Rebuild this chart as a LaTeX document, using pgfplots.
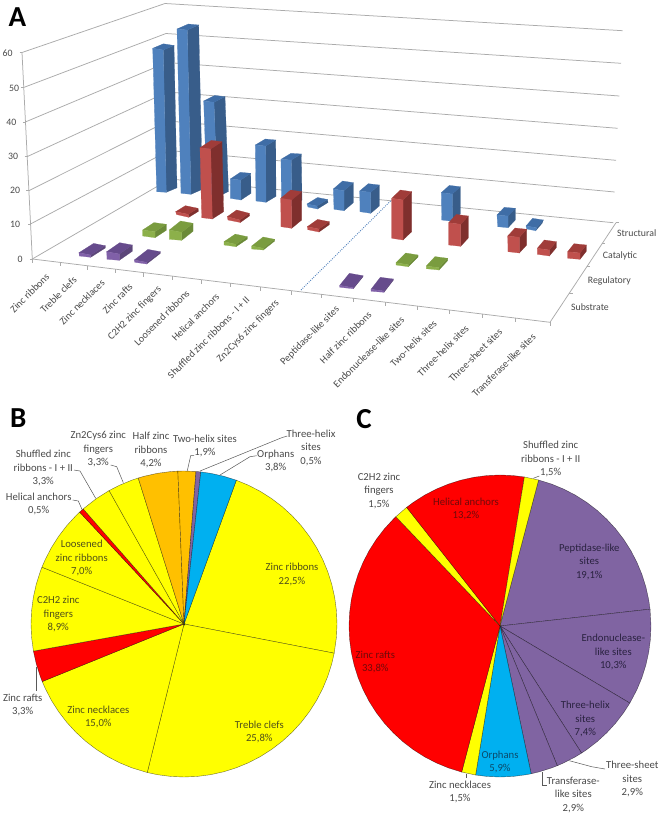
\documentclass[border=0pt]{standalone}
\usepackage{fontspec}
\setmainfont{Carlito}
\usepackage{pgfplots}
\pgfplotsset{compat=1.18}
\usepgfplotslibrary{polar}
\definecolor{blueF}{HTML}{4F81BD}\definecolor{blueS}{HTML}{385D8A}\definecolor{blueT}{HTML}{3F6DA6}
\definecolor{redF}{HTML}{C0504D}\definecolor{redS}{HTML}{7F2F2D}\definecolor{redT}{HTML}{A03C39}
\definecolor{greenF}{HTML}{8CB04A}\definecolor{greenS}{HTML}{6B8A38}\definecolor{greenT}{HTML}{7A9C3F}
\definecolor{purpF}{HTML}{8060A8}\definecolor{purpS}{HTML}{5C4679}\definecolor{purpT}{HTML}{664B8C}
\definecolor{gridc}{HTML}{ABABAB}\definecolor{lab}{HTML}{4A4A4A}
\definecolor{py}{HTML}{FFFF00}\definecolor{pr}{HTML}{FF0000}\definecolor{po}{HTML}{FFC000}
\definecolor{pb}{HTML}{00B0F0}\definecolor{pp}{HTML}{8064A2}
\definecolor{ty}{HTML}{50501A}\definecolor{tr}{HTML}{700A0A}\definecolor{tp}{HTML}{2A2240}\definecolor{tb}{HTML}{0B4A6A}
\newcommand\W[2]{\addplot[fill=#1,draw=black,draw opacity=.55,line width=.4pt,mark=none] coordinates {(0,0) #2} --cycle;}
\newcommand\B[9]{\def\bc{#1}\def\xa{#2}\def\ya{#3}\def\xb{#4}\def\yb{#5}\def\xc{#6}\def\yc{#7}\def\xd{#8}\def\yd{#9}\Bb}
\newcommand\Bb[2]{%
 \pgfmathsetmacro\xe{\xa+#1}\pgfmathsetmacro\ye{\ya+#2}%
 \pgfmathsetmacro\xf{\xb+#1}\pgfmathsetmacro\yf{\yb+#2}%
 \pgfmathsetmacro\xg{\xc+#1}\pgfmathsetmacro\yg{\yc+#2}%
 \edef\tmp{\noexpand\addplot[fill=\bc S,draw=\bc S,line width=.2pt,mark=none] coordinates {(\xb,\yb)(\xc,\yc)(\xg,\yg)(\xf,\yf)} --cycle;
 \noexpand\addplot[fill=\bc T,draw=\bc T,line width=.2pt,mark=none] coordinates {(\xa,\ya)(\xb,\yb)(\xf,\yf)(\xe,\ye)} --cycle;
 \noexpand\addplot[fill=\bc F,draw=\bc F,line width=.2pt,mark=none] coordinates {(\xa,\ya)(\xb,\yb)(\xc,\yc)(\xd,\yd)} --cycle;}\tmp}
\newcommand\G[4]{\addplot[color=gridc,line width=.75pt,mark=none] coordinates {(#1,#2)(#3,#4)};}
\newcommand\Lk[1]{\addplot[color=black!65,line width=.5pt,mark=none] coordinates {#1};}
\newcommand\T[4]{\node[font=\fontsize{10.7}{13.4}\selectfont,text=#3,align=center,inner sep=0pt] at (axis cs:#1,#2) {#4};}
\newcommand\Ta[3]{\node[font=\fontsize{9.8}{12}\selectfont,text=lab,inner sep=0pt] at (axis cs:#1,#2) {#3};}
\newcommand\XL[3]{\node[font=\fontsize{10.2}{12}\selectfont,text=lab,rotate=45,anchor=east,inner sep=0pt] at (axis cs:#1,#2) {#3};}
\begin{document}
\begin{tikzpicture}
\useasboundingbox[fill=white] (0,0) rectangle (661pt,816pt);
% Pie B
\begin{polaraxis}[at={(184pt,192pt)},anchor=center,scale only axis,width=306pt,height=306pt,hide axis,xmin=0,xmax=360,ymin=0,ymax=1,clip=false]
\W{py}{(70,1)(65,1)(60,1)(55,1)(50,1)(45,1)(40,1)(35,1)(30,1)(25,1)(20,1)(15,1)(10,1)(5,1)(0,1)(355,1)(349,1)}
\W{py}{(349,1)(345,1)(340,1)(335,1)(330,1)(325,1)(320,1)(315,1)(310,1)(305,1)(300,1)(295,1)(290,1)(285,1)(280,1)(275,1)(270,1)(265,1)(260,1)(256.1,1)}
\W{py}{(256.1,1)(250,1)(245,1)(240,1)(235,1)(230,1)(225,1)(220,1)(215,1)(210,1)(205,1)(202.1,1)}
\W{pr}{(202.1,1)(200,1)(195,1)(190.2,1)}
\W{py}{(190.2,1)(185,1)(180,1)(175,1)(170,1)(165,1)(160,1)(158.2,1)}
\W{py}{(158.2,1)(155,1)(150,1)(145,1)(140,1)(135,1)(133,1)}
\W{pr}{(133,1)(131.2,1)}
\W{py}{(131.2,1)(125,1)(119.3,1)}
\W{py}{(119.3,1)(115,1)(110,1)(107.4,1)}
\W{po}{(107.4,1)(105,1)(100,1)(95,1)(92.3,1)}
\W{po}{(92.3,1)(90,1)(85.5,1)}
\W{pp}{(85.5,1)(83.7,1)}
\W{pb}{(83.7,1)(80,1)(75,1)(70,1)}
\end{polaraxis}
% Pie C
\begin{polaraxis}[at={(500pt,190pt)},anchor=center,scale only axis,width=302pt,height=302pt,hide axis,xmin=0,xmax=360,ymin=0,ymax=1,clip=false]
\W{pp}{(75.2,1)(70,1)(65,1)(60,1)(55,1)(50,1)(45,1)(40,1)(35,1)(30,1)(25,1)(20,1)(15,1)(10,1)(6.4,1)}
\W{pp}{(6.4,1)(0,1)(355,1)(350,1)(345,1)(340,1)(335,1)(329.3,1)}
\W{pp}{(329.3,1)(325,1)(320,1)(315,1)(310,1)(305,1)(302.7,1)}
\W{pp}{(302.7,1)(300,1)(295,1)(292.3,1)}
\W{pp}{(292.3,1)(290,1)(285,1)(281.9,1)}
\W{pb}{(281.9,1)(280,1)(275,1)(270,1)(265,1)(260.7,1)}
\W{py}{(260.7,1)(255.3,1)}
\W{pr}{(255.3,1)(250,1)(245,1)(240,1)(235,1)(230,1)(225,1)(220,1)(215,1)(210,1)(205,1)(200,1)(195,1)(190,1)(185,1)(180,1)(175,1)(170,1)(165,1)(160,1)(155,1)(150,1)(145,1)(140,1)(135,1)(133.6,1)}
\W{py}{(133.6,1)(128.2,1)}
\W{pr}{(128.2,1)(125,1)(120,1)(115,1)(110,1)(105,1)(100,1)(95,1)(90,1)(85,1)(80.7,1)}
\W{py}{(80.7,1)(75.2,1)}
\end{polaraxis}
% Pixel-scaled axis: chart A, labels
\begin{axis}[at={(0,0)},anchor=south west,scale only axis,width=661pt,height=816pt,xmin=0,xmax=661,ymin=0,ymax=816,y dir=reverse,hide axis,clip=false]
% left wall grid
\G{22}{52.5}{165}{3.5}\G{23.6}{87.5}{166}{33.5}\G{25.3}{122}{167}{62.5}\G{27}{156.7}{167.5}{92}\G{28.8}{190.7}{168}{121}\G{30.5}{224}{169}{150.5}\G{32.3}{259}{170}{179}
% back wall grid
\G{165}{3.5}{622.7}{30.7}\G{166}{33.5}{621}{63.3}\G{167}{62.5}{619.3}{96}\G{167.5}{92}{617.7}{128.3}\G{168}{121}{616}{160.3}\G{169}{150.5}{614.7}{192}\G{170}{179}{613.3}{222.7}
% value axis
\G{22}{52.5}{32.3}{259}
\G{19.5}{52.5}{22}{52.5}\G{21.1}{87.5}{23.6}{87.5}\G{22.8}{122}{25.3}{122}\G{24.5}{156.7}{27}{156.7}\G{26.3}{190.7}{28.8}{190.7}\G{28}{224}{30.5}{224}\G{29.8}{259}{32.3}{259}
% floor edges
\G{32.3}{259}{550}{322.3}\G{550}{322.3}{616}{222.7}
\G{32.3}{259}{32.3}{263}\G{60}{262.4}{60}{266.4}\G{87.3}{265.7}{87.3}{269.7}\G{115.3}{269.2}{115.3}{273.2}\G{143.3}{272.6}{143.3}{276.6}\G{172.3}{276.1}{172.3}{280.1}\G{201}{279.6}{201}{283.6}\G{230}{283.2}{230}{287.2}\G{260}{286.8}{260}{290.8}\G{291.7}{290.7}{291.7}{294.7}\G{321.7}{294.4}{321.7}{298.4}\G{353.3}{298.3}{353.3}{302.3}\G{385}{302.1}{385}{306.1}\G{417.3}{306.1}{417.3}{310.1}\G{449.3}{310}{449.3}{314}\G{482.7}{314.1}{482.7}{318.1}\G{515.7}{318.1}{515.7}{322.1}\G{550}{322.3}{550}{326.3}
\G{569.3}{293.3}{572.5}{293.3}\G{586.7}{266.7}{590}{266.7}\G{601.7}{243.5}{605}{243.5}\G{616}{222.7}{619.3}{222.7}
% dotted separator
\addplot[color=blueF,dash pattern=on .9pt off 1.3pt,line width=.9pt,mark=none] coordinates {(301,290)(391.5,200)};
% structural
\B{blue}{152.7}{48.3}{163.3}{50}{166.3}{192.3}{156.7}{191.7}{10.7}{-4.5}
\B{blue}{177}{29}{187.3}{30}{191}{194.3}{181}{193.3}{11.4}{-5}
\B{blue}{203.7}{101}{214}{102.3}{217.5}{197}{207}{196}{11}{-5.6}
\B{blue}{230.3}{179}{240.7}{180}{241}{200}{230.3}{198.3}{10}{-6.7}
\B{blue}{255.3}{145}{265.7}{146}{266}{202.3}{256}{201}{10}{-6}
\B{blue}{281}{159.3}{291.3}{160}{292}{206}{281.5}{205}{10}{-6}
\B{blue}{307}{204}{317}{206}{317.5}{209}{308}{207}{10.5}{-6.5}
\B{blue}{333.3}{189}{344}{190.7}{344}{210.7}{334}{209.3}{9.3}{-8}
\B{blue}{359.7}{191}{370.7}{192.3}{370.7}{213.3}{360}{211.7}{8.6}{-7.3}
\B{blue}{441.3}{192.7}{452.3}{194}{452.3}{221.3}{441.7}{220}{8}{-7.3}
\B{blue}{497}{215}{508}{216}{508}{227.7}{497.7}{226.7}{7.3}{-7.7}
\B{blue}{526}{226}{536.7}{227.7}{535.7}{230.7}{526.7}{229}{6.6}{-7.7}
% catalytic
\B{red}{175.7}{211.7}{188.3}{214.3}{188.8}{217.3}{176.5}{214.5}{9.7}{-6}
\B{red}{200}{147.7}{210.7}{149}{212.3}{219}{201.7}{217.7}{11.3}{-7.3}
\B{red}{227.3}{216.7}{240}{220}{240.3}{222.5}{228}{220}{9.3}{-6.7}
\B{red}{280.7}{198.3}{291.7}{200}{291.7}{228.3}{281}{226.7}{10}{-8.3}
\B{red}{307.3}{226.7}{319}{229}{319}{232}{307.8}{229.7}{10.3}{-7.3}
\B{red}{391.7}{198.3}{403}{200}{403}{240}{391.7}{238.3}{8.7}{-8.3}
\B{red}{448.7}{222.7}{460.7}{224.3}{460.7}{246.3}{448.7}{245}{7.6}{-8.3}
\B{red}{507.7}{236}{519.3}{237.3}{519.3}{253}{508}{251.7}{7.4}{-8}
\B{red}{537.3}{248.3}{549.3}{250}{549.3}{256}{537.3}{254.3}{7}{-8.3}
\B{red}{567.7}{251.7}{580}{253}{580}{259.3}{567.7}{258.3}{6.3}{-8}
% regulatory
\B{green}{142.7}{230}{155}{231.7}{155}{237.7}{142.7}{236}{11.3}{-7.4}
\B{green}{169.3}{230}{181.7}{232.3}{181.7}{240.3}{169.3}{239.3}{11.3}{-9}
\B{green}{224}{241.7}{236}{244.3}{236}{246.7}{224}{245}{11.3}{-7.6}
\B{green}{251.7}{246}{263.3}{248.3}{263.3}{250}{251.7}{249}{11.4}{-9}
\B{green}{396}{262.7}{408.3}{264.7}{408.3}{266.7}{396}{265}{9.7}{-9.7}
\B{green}{426.3}{266}{439}{267.7}{439}{270}{426.3}{268.7}{8.7}{-9.4}
% substrate
\B{purp}{79}{252.7}{90.7}{255}{90.7}{257.3}{79.3}{256}{14.6}{-9.3}
\B{purp}{106.7}{251.7}{119.3}{254}{119.3}{260.3}{107}{259.3}{13}{-9}
\B{purp}{134.3}{260}{146.7}{262.3}{146.7}{264}{134.7}{262.3}{13.6}{-10.6}
\B{purp}{339.7}{285.3}{353.3}{287.7}{353.3}{288.7}{339.7}{287.3}{9.7}{-12}
\B{purp}{371}{289.3}{384}{291}{384}{292.3}{371}{291.3}{9.3}{-12}
% value labels
\Ta{7.7}{53}{60}\Ta{14}{88}{50}\Ta{11.3}{122.7}{40}\Ta{13}{156.7}{30}\Ta{15}{190.7}{20}\Ta{15}{224}{10}\Ta{20}{259}{0}
% category labels
\XL{47.7}{275}{Zinc ribbons}\XL{75}{278}{Treble clefs}\XL{103}{281}{Zinc necklaces}\XL{131}{285}{Zinc rafts}\XL{160}{288}{C2H2 zinc fingers}\XL{188}{291.7}{Loosened ribbons}\XL{217.7}{295}{Helical anchors}\XL{248}{298}{Shuffled zinc ribbons - I + II}\XL{277.7}{301.7}{Zn2Cys6 zinc fingers}\XL{338}{308}{Peptidase-like sites}\XL{370}{313}{Half zinc ribbons}\XL{402.7}{318}{Endonuclease-like sites}\XL{435}{321.7}{Two-helix sites}\XL{467}{326.7}{Three-helix sites}\XL{500.7}{330}{Three-sheet sites}\XL{534}{335}{Transferase-like sites}
\Ta{636.7}{233.3}{Structural}\Ta{620}{256}{Catalytic}\Ta{609.3}{280.7}{Regulatory}\Ta{590}{307.3}{Substrate}
% panel letters
\node[font=\fontsize{29}{31}\selectfont\bfseries,inner sep=0pt] at (axis cs:17.3,16.7) {A};
\node[font=\fontsize{29}{31}\selectfont\bfseries,inner sep=0pt] at (axis cs:18.3,418.3) {B};
\node[font=\fontsize{29}{31}\selectfont\bfseries,inner sep=0pt] at (axis cs:364,419) {C};
% leaders
\Lk{(287.3,436)(281.7,437.7)(200,471)}\Lk{(256.7,455.7)(250,456.7)(220,475)}\Lk{(194,455.7)(190.7,455.7)(187.3,470.7)}\Lk{(110.7,465)(116.7,466.7)(123.3,482.7)}\Lk{(74,470)(80,471)(95.7,498.3)}\Lk{(72.7,500)(78.3,501)(82.3,510)}\Lk{(36,666.7)(36,690.7)}
\Lk{(539.3,476)(533.3,478.3)}\Lk{(466,774)(466,777.7)}\Lk{(546.7,785)(542.3,785)(542.3,771.7)}\Lk{(605,769)(591.7,766.7)(569.3,760.7)}
% pie B labels
\T{98.3}{449}{lab}{Zn2Cys6 zinc\\fingers\\3,3\%}
\T{151}{450}{lab}{Half zinc\\ribbons\\4,2\%}
\T{205}{445.7}{lab}{Two-helix sites\\1,9\%}
\T{311}{447.7}{lab}{Three-helix\\sites\\0,5\%}
\T{275.7}{460.7}{lab}{Orphans\\3,8\%}
\T{43.3}{468.3}{lab}{Shuffled zinc\\ribbons - I + II\\3,3\%}
\T{38.7}{504}{lab}{Helical anchors\\0,5\%}
\T{81.7}{558.3}{ty}{Loosened\\zinc ribbons\\7,0\%}
\T{292}{574.3}{ty}{Zinc ribbons\\22,5\%}
\T{58.3}{614.3}{ty}{C2H2 zinc\\fingers\\8,9\%}
\T{22.7}{705}{lab}{Zinc rafts\\3,3\%}
\T{98.3}{716.7}{ty}{Zinc necklaces\\15,0\%}
\T{259.3}{731.7}{ty}{Treble clefs\\25,8\%}
% pie C labels
\T{550.7}{459}{lab}{Shuffled zinc\\ribbons - I + II\\1,5\%}
\T{379}{490.7}{lab}{C2H2 zinc\\fingers\\1,5\%}
\T{466}{509}{tr}{Helical anchors\\13,2\%}
\T{589.3}{561.7}{tp}{Peptidase-like\\sites\\19,1\%}
\T{613.3}{652}{tp}{Endonuclease-\\like sites\\10,3\%}
\T{585.3}{719}{tp}{Three-helix\\sites\\7,4\%}
\T{632.3}{779}{lab}{Three-sheet\\sites\\2,9\%}
\T{573.3}{795}{lab}{Transferase-\\like sites\\2,9\%}
\T{500}{761.7}{tb}{Orphans\\5,9\%}
\T{460}{791.7}{lab}{Zinc necklaces\\1,5\%}
\T{375.3}{662}{tr}{Zinc rafts\\33,8\%}
\end{axis}
\end{tikzpicture}
\end{document}
